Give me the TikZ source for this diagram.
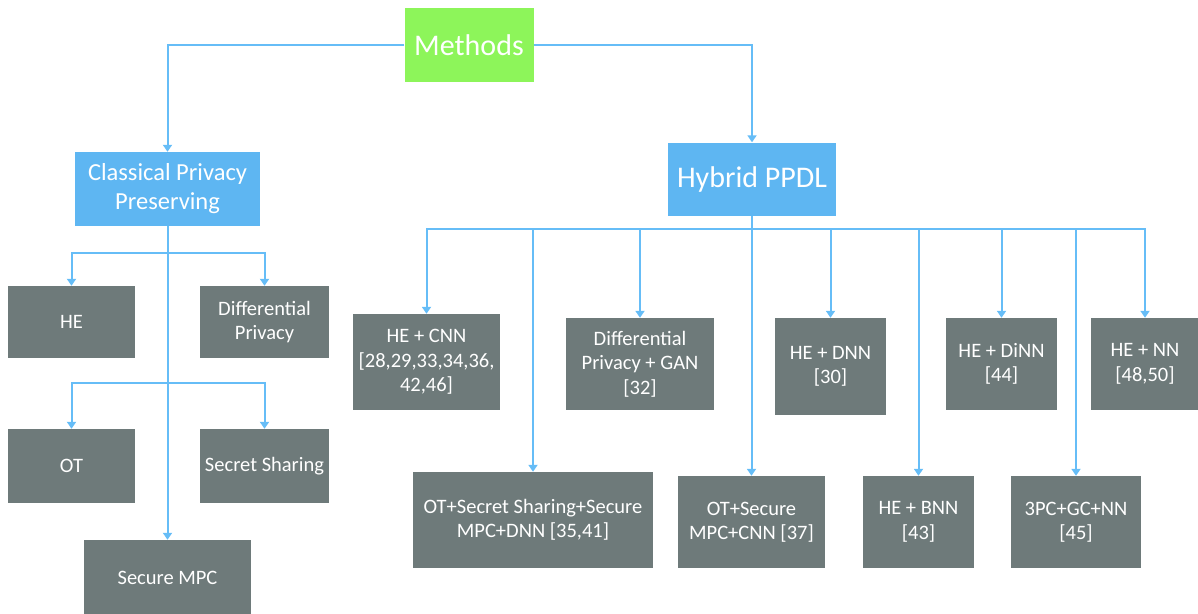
\documentclass[tikz,border=0pt]{standalone}
\usepackage{fontspec}
\setmainfont{Carlito}
\usetikzlibrary{arrows.meta}
\definecolor{mgreen}{HTML}{8DF55A}
\definecolor{mblue}{HTML}{5EB6F2}
\definecolor{mgray}{HTML}{6E7A7A}
\definecolor{mline}{HTML}{66BDF7}
\begin{document}
\begin{tikzpicture}[x=1pt,y=-1pt,
  box/.style={rectangle, inner sep=0pt, align=center, text=white},
  gbox/.style={box, fill=mgray, font=\fontsize{20.5}{24.5}\selectfont},
  link/.style={draw=mline, line width=2pt},
  arr/.style={link, -{Triangle[width=9pt,length=7pt]}}]
\useasboundingbox (0,0) rectangle (1198,613);
% top
\node[box, fill=mgreen, minimum width=129pt, minimum height=74pt, font=\fontsize{30}{36}\selectfont] (methods) at (469,45) {Methods};
\node[box, fill=mblue, minimum width=185pt, minimum height=74pt, font=\fontsize{24.5}{29}\selectfont] (classical) at (167.5,189) {Classical Privacy\\Preserving};
\node[box, fill=mblue, minimum width=168pt, minimum height=73pt, font=\fontsize{30}{36}\selectfont] (hybrid) at (752,179) {Hybrid PPDL};
% classical children
\node[gbox, minimum width=127pt, minimum height=72pt] (he) at (71.5,322) {HE};
\node[gbox, minimum width=129pt, minimum height=72pt] (dp) at (264.5,322) {Differential\\Privacy};
\node[gbox, minimum width=127pt, minimum height=74pt] (ot) at (71.5,466) {OT};
\node[gbox, minimum width=129pt, minimum height=74pt] (ss) at (264.5,466) {Secret Sharing};
\node[gbox, minimum width=167pt, minimum height=76pt] (smpc) at (167.5,578) {Secure MPC};
% hybrid children, top row
\node[gbox, minimum width=147pt, minimum height=96pt] (cnn) at (426.5,362) {HE + CNN\\{[28,29,33,34,36,}\\42,46]};
\node[gbox, minimum width=148pt, minimum height=92pt] (dpgan) at (640,364) {Differential\\Privacy + GAN\\{[32]}};
\node[gbox, minimum width=111pt, minimum height=97pt] (hdnn) at (830.5,366.5) {HE + DNN\\{[30]}};
\node[gbox, minimum width=111pt, minimum height=92pt] (hdinn) at (1001.5,364) {HE + DiNN\\{[44]}};
\node[gbox, minimum width=108pt, minimum height=92pt] (hnn) at (1145,364) {HE + NN\\{[48,50]}};
% hybrid children, bottom row
\node[gbox, minimum width=240pt, minimum height=96pt] (otss) at (533,520) {OT+Secret Sharing+Secure\\MPC+DNN [35,41]};
\node[gbox, minimum width=147pt, minimum height=92pt] (otcnn) at (751.5,522) {OT+Secure\\MPC+CNN [37]};
\node[gbox, minimum width=111pt, minimum height=92pt] (hbnn) at (918.5,522) {HE + BNN\\{[43]}};
\node[gbox, minimum width=130pt, minimum height=92pt] (pc3) at (1076,522) {3PC+GC+NN\\{[45]}};
% connectors from Methods
\draw[arr] (methods.west) -| (classical.north);
\draw[arr] (methods.east) -| (hybrid.north);
% classical tree
\coordinate (c1) at (167.5,253);
\coordinate (c2) at (167.5,383);
\draw[arr] (classical.south) -- (smpc.north);
\draw[arr] (c1) -| (he.north);
\draw[arr] (c1) -| (dp.north);
\draw[arr] (c2) -| (ot.north);
\draw[arr] (c2) -| (ss.north);
% hybrid tree
\coordinate (hb) at (752,229);
\draw[link] (hybrid.south) -- (hb);
\foreach \n in {cnn,otss,dpgan,otcnn,hdnn,hbnn,hdinn,pc3,hnn}
  \draw[arr] (hb) -| (\n.north);
\end{tikzpicture}
\end{document}
